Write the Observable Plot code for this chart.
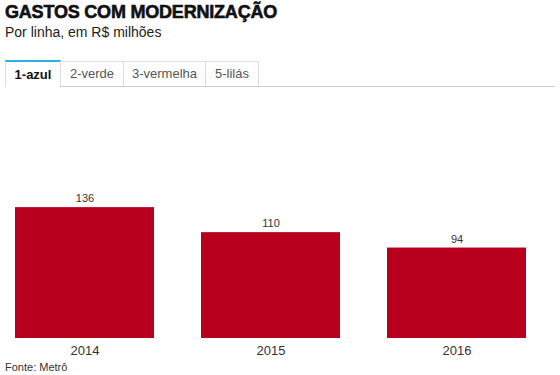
<!DOCTYPE html>
<html>
<head>
<meta charset="utf-8">
<script src="https://cdn.jsdelivr.net/npm/d3@7"></script>
<script src="https://cdn.jsdelivr.net/npm/@observablehq/plot@0.6"></script>
<style>
  html, body { margin: 0; padding: 0; background: #fff; width: 560px; height: 375px; overflow: hidden; font-family: "Liberation Sans", Arial, sans-serif; }
  .abs { position: absolute; white-space: nowrap; }
  #title { left: 5px; top: 2px; font-size: 18px; font-weight: 900; color: #111; letter-spacing: -0.2px; -webkit-text-stroke: 0.6px #111; }
  #subtitle { left: 5px; top: 24px; font-size: 14px; color: #222; }
  .tab { position: absolute; top: 61px; height: 25px; box-sizing: border-box; border: 1px solid #ddd; border-bottom: none; font-size: 13px; color: #555; text-align: center; line-height: 24px; background: #fff; }
  .tab.active { border-top: 2px solid #2ab0e4; color: #111; font-weight: bold; top: 60px; height: 27px; line-height: 25px; }
  #tabline { left: 60px; top: 86px; width: 495px; height: 0; border-top: 1px solid #ccc; }
  #chart { left: 0; top: 88px; }
  #source { left: 5px; top: 361px; font-size: 11px; color: #333; }
</style>
</head>
<body>
<div id="title" class="abs">GASTOS COM MODERNIZAÇÃO</div>
<div id="subtitle" class="abs">Por linha, em R$ milhões</div>
<div id="tabs"></div>
<div id="tabline" class="abs"></div>
<div id="chart" class="abs"></div>
<div id="source" class="abs">Fonte: Metrô</div>
<script>
const tabLabels = ["1-azul", "2-verde", "3-vermelha", "5-lilás"];
const years = ["2014", "2015", "2016"];
const values = [136, 110, 94];

const tabEdges = [5, 60, 123, 205, 258];
const tabsDiv = document.getElementById("tabs");
tabLabels.forEach((t, i) => {
  const d = document.createElement("div");
  d.className = "tab" + (i === 0 ? " active" : "");
  d.style.left = tabEdges[i] + "px";
  d.style.width = (tabEdges[i + 1] - tabEdges[i] + 1) + "px";
  d.textContent = t;
  tabsDiv.appendChild(d);
});

const data = years.map((y, i) => ({year: y, value: values[i]}));

const chart = Plot.plot({
  width: 560,
  height: 272,
  marginLeft: 15,
  marginRight: 34,
  marginTop: 20,
  marginBottom: 22,
  style: {fontFamily: "'Liberation Sans', Arial, sans-serif", color: "#333", background: "transparent"},
  x: {type: "band", domain: years, paddingInner: 0.255, paddingOuter: 0, axis: null},
  y: {domain: [0, 239], axis: null},
  marks: [
    Plot.barY(data, {x: "year", y: "value", fill: "#b8001e"}),
    Plot.text(data, {x: "year", y: "value", text: d => String(d.value), dy: -9, fontSize: 11, fill: "#333"}),
    Plot.axisX({tickSize: 0, tickPadding: 7, fontSize: 13, color: "#333", label: null})
  ]
});
document.getElementById("chart").appendChild(chart);
</script>
</body>
</html>
